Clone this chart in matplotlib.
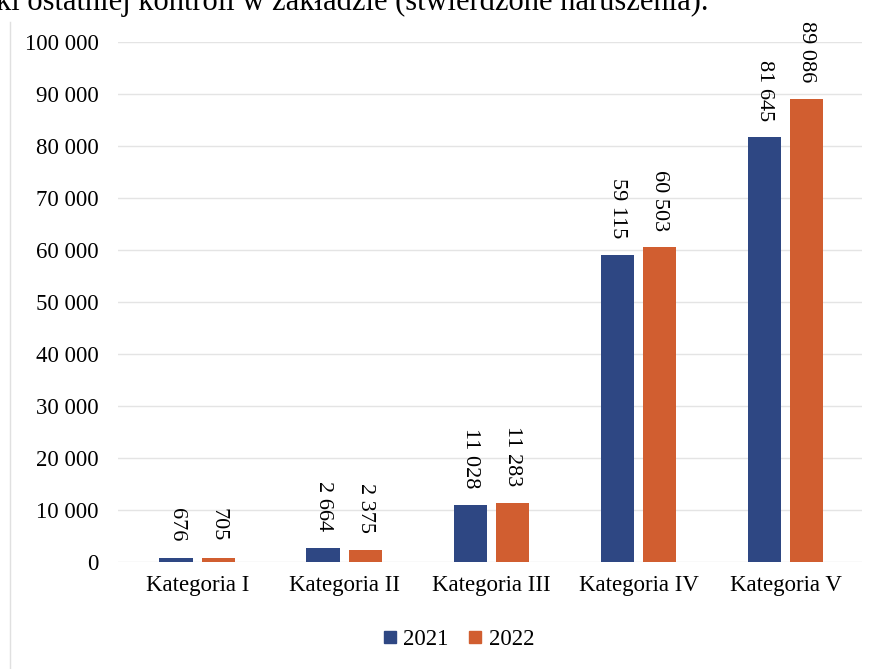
import matplotlib
matplotlib.use("Agg")
import matplotlib.pyplot as plt
import numpy as np
from matplotlib.lines import Line2D

categories = ["Kategoria I", "Kategoria II", "Kategoria III", "Kategoria IV", "Kategoria V"]
series_names = ["2021", "2022"]
values_2021 = [676, 2664, 11028, 59115, 81645]
values_2022 = [705, 2375, 11283, 60503, 89086]
yticks = list(range(0, 100001, 10000))

plt.rcParams['font.family'] = ['Liberation Serif', 'DejaVu Serif']

W, H = 885, 669
fig = plt.figure(figsize=(W/100, H/100), dpi=100)
ax = fig.add_axes([118/W, 1-562/H, (862-118)/W, (562-42)/H])

colors = ['#2E4783', '#D15E30']
x = np.arange(len(categories))
bw = 0.23
off = 0.143
for vals, dx, c in [(values_2021, -off, colors[0]), (values_2022, off, colors[1])]:
    ax.bar(x + dx, vals, width=bw, color=c, zorder=3)
    for xi, v in zip(x + dx, vals):
        lbl = f"{v:,}".replace(",", " ")
        ax.annotate(lbl, (xi, v), xytext=(0, 12), textcoords='offset points',
                    rotation=-90, ha='center', va='bottom', fontsize=16)

ax.set_ylim(0, 100000)
ax.set_xlim(-0.54, 4.52)
ax.set_yticks(yticks)
ax.set_yticklabels([f"{t:,}".replace(",", " ") for t in yticks], fontsize=16.5)
ax.set_xticks(x)
ax.set_xticklabels(categories, fontsize=16.5)
ax.tick_params(length=0, pad=14)
ax.tick_params(axis='x', pad=9)
ax.grid(axis='y', color='#E4E4E4', linewidth=1, zorder=0)
for s in ax.spines.values():
    s.set_visible(False)

handles = [Line2D([0], [0], marker='s', linestyle='', color=c, markersize=8) for c in colors]
fig.legend(handles, series_names, loc='center', bbox_to_anchor=(458/W, 1-639/H), ncol=2,
           frameon=False, fontsize=16.5, handlelength=0.7, handletextpad=0.25,
           columnspacing=0.8)

fig.text(-4/W, 1-10/H, "ki ostatniej kontroli w zakładzie (stwierdzone naruszenia).",
         fontsize=22, va='baseline', ha='left')
fig.add_artist(Line2D([10/W, 10/W], [0, 1-22/H], color='#E0E0E0', lw=1))

fig.savefig("out.png", dpi=100)
